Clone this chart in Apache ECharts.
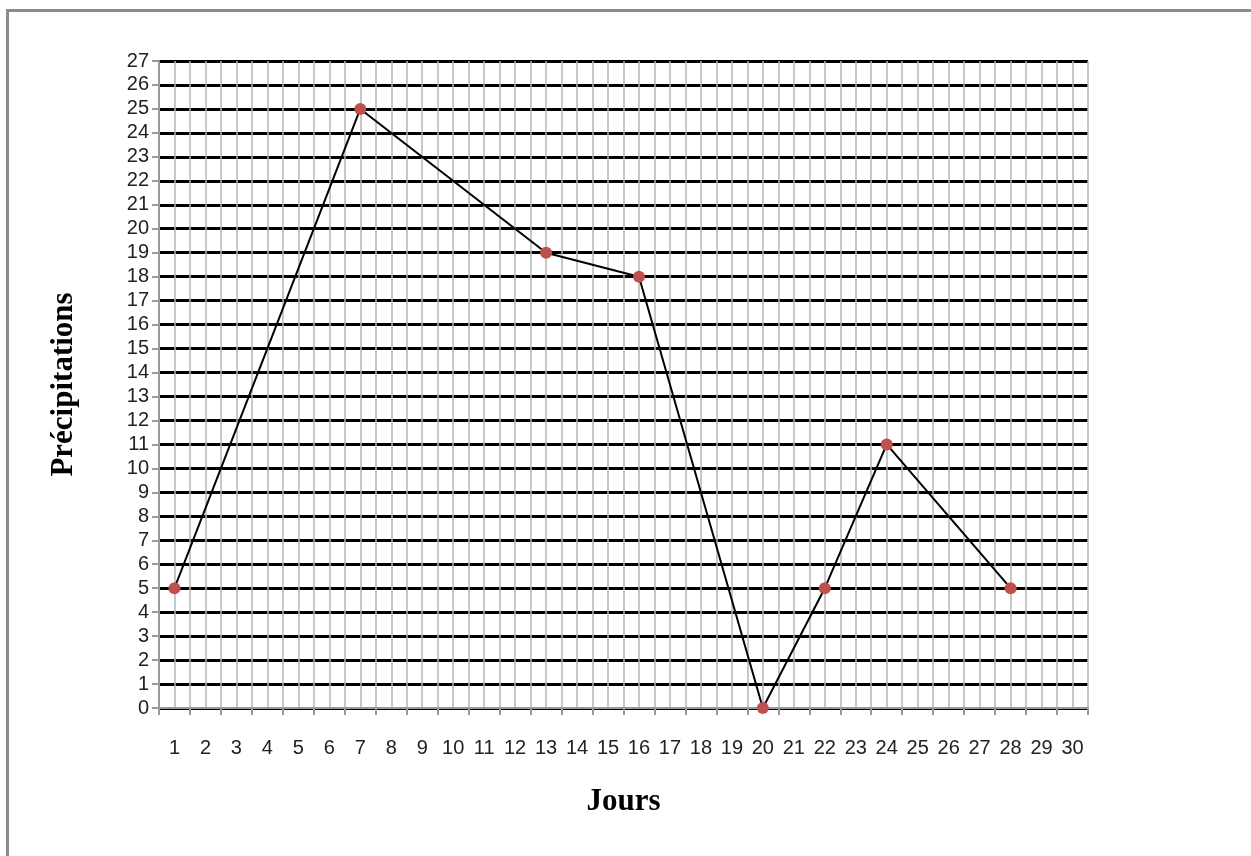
<!DOCTYPE html>
<html>
<head>
<meta charset="utf-8">
<title>Précipitations</title>
<script src="https://cdn.jsdelivr.net/npm/echarts@6/dist/echarts.min.js"></script>
<style>
  html, body { margin: 0; padding: 0; background: #fff; }
  #chart { width: 1251px; height: 856px; }
</style>
</head>
<body>
<div id="chart"></div>
<script>
// jours du mois (etiquettes de l'axe X)
var jours = ['1','2','3','4','5','6','7','8','9','10','11','12','13','14','15',
             '16','17','18','19','20','21','22','23','24','25','26','27','28','29','30'];
// precipitations relevees (null = pas de mesure)
var precipitations = [5, null, null, null, null, null, 25, null, null, null, null, null, 19, null, null,
                      18, null, null, null, 0, null, 5, null, 11, null, null, null, 5, null, null];
var yMin = 0;
var yMax = 27;

var dom = document.getElementById('chart');
var myChart = echarts.init(dom);

var labelFont = '"Liberation Sans", Arial, sans-serif';
var titleFont = '"Liberation Serif", "Times New Roman", serif';

var option = {
    animation: false,
    backgroundColor: '#fff',
    graphic: [{
        type: 'rect',
        left: 5, top: 8,
        shape: { width: 1300, height: 900 },
        style: { fill: 'none', stroke: '#8c8c8c', lineWidth: 3 },
        silent: true
    }],
    grid: {
        left: 159,
        right: 163,
        top: 61,
        bottom: 148
    },
    xAxis: [{
        type: 'category',
        data: jours,
        boundaryGap: true,
        name: 'Jours',
        nameLocation: 'middle',
        nameGap: 78,
        nameTextStyle: { fontFamily: titleFont, fontWeight: 'bold', fontSize: 31, color: '#000' },
        axisLine: { lineStyle: { color: '#999', width: 2 } },
        axisTick: { show: true, length: 7, lineStyle: { color: '#999', width: 2 } },
        axisLabel: { interval: 0, margin: 30, fontFamily: labelFont, fontSize: 20, color: '#222' },
        splitLine: { show: false }
    }, {
        // axe cache pour les lignes verticales (bords + milieux des jours)
        type: 'value',
        min: 0,
        max: 30,
        interval: 0.5,
        position: 'bottom',
        axisLine: { show: false },
        axisTick: { show: false },
        axisLabel: { show: false },
        splitLine: { show: true, lineStyle: { color: '#b4b4b4', width: 1.5 } }
    }],
    yAxis: {
        type: 'value',
        min: yMin,
        max: yMax,
        interval: 1,
        name: 'Précipitations',
        nameLocation: 'middle',
        nameGap: 80,
        nameRotate: 90,
        nameTextStyle: { fontFamily: titleFont, fontWeight: 'bold', fontSize: 31, color: '#000' },
        axisLine: { show: true, lineStyle: { color: '#999', width: 2 } },
        axisTick: { show: true, length: 7, lineStyle: { color: '#999', width: 2 } },
        axisLabel: { margin: 10, fontFamily: labelFont, fontSize: 20, color: '#222' },
        splitLine: { show: true, lineStyle: { color: '#000', width: 3 } }
    },
    series: [{
        name: 'Précipitations',
        type: 'line',
        xAxisIndex: 0,
        data: precipitations,
        connectNulls: true,
        symbol: 'circle',
        symbolSize: 12,
        lineStyle: { color: '#000', width: 2 },
        itemStyle: { color: '#c0504d' },
        z: 5
    }]
};

myChart.setOption(option);
</script>
</body>
</html>
